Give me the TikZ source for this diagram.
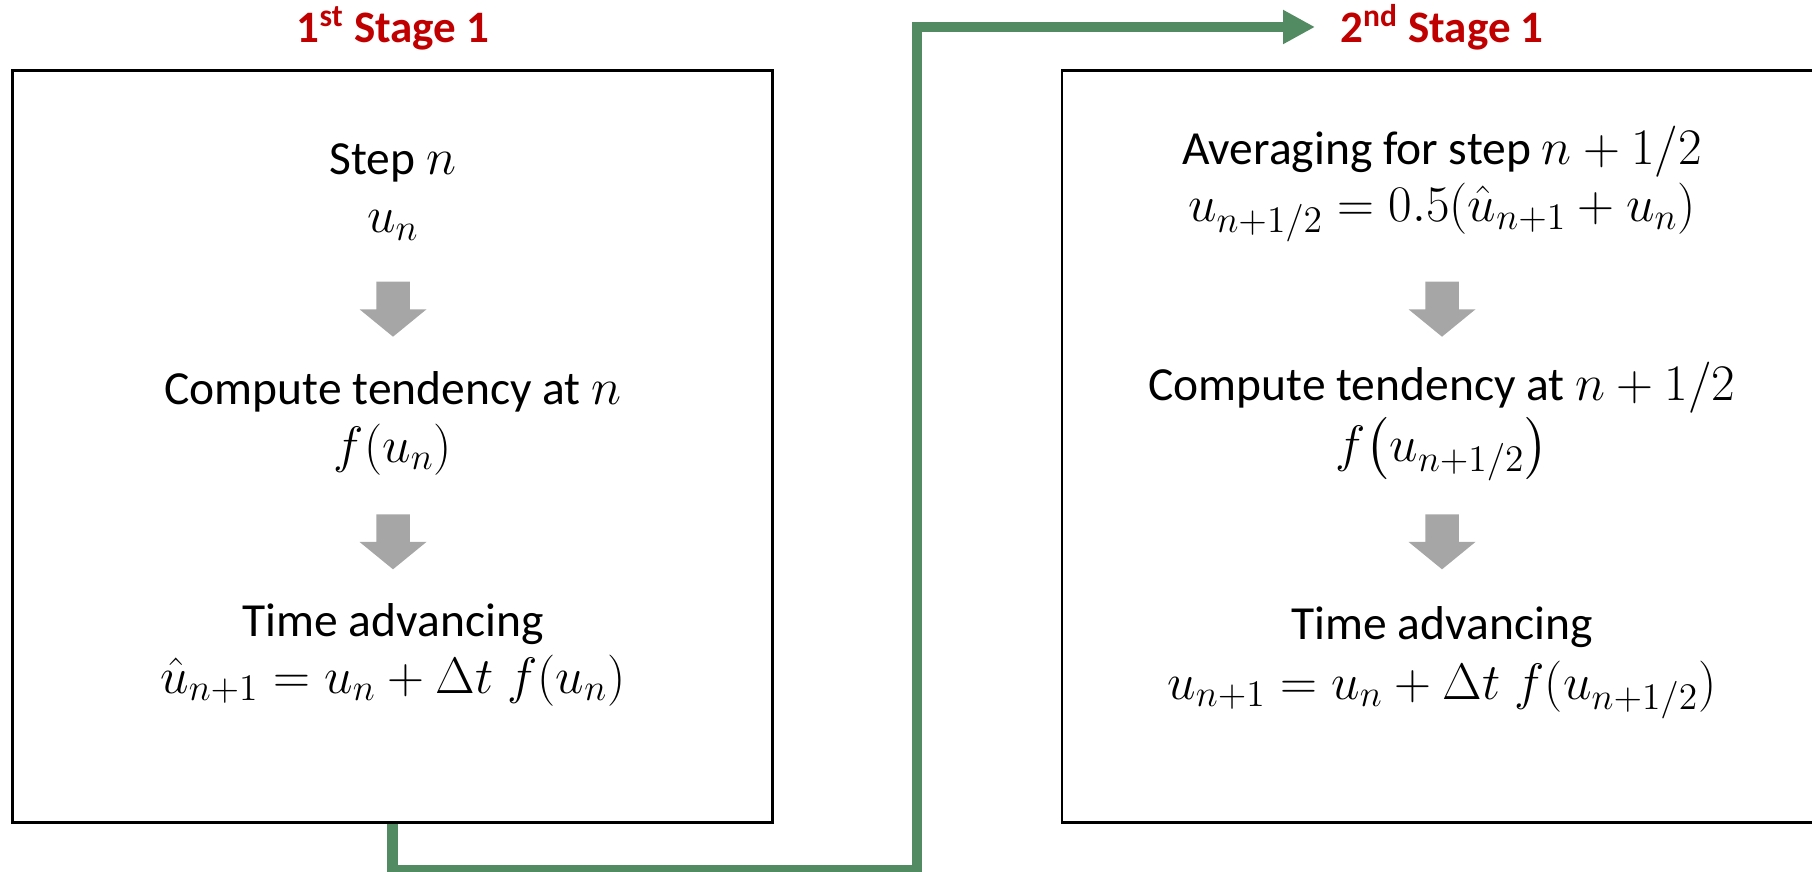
\RequirePackage{fix-cm}
\documentclass[tikz,border=0pt]{standalone}
\usepackage{fontspec}
\setmainfont{Carlito}
\usepackage{amsmath}
\DeclareMathSizes{19}{20.5}{15}{11}
\usetikzlibrary{arrows.meta}
\definecolor{stagered}{RGB}{192,0,0}
\definecolor{flowgreen}{RGB}{82,138,98}
\definecolor{arrowgray}{RGB}{166,166,166}

\begin{document}
\begin{tikzpicture}[
    x=0.4pt, y=-0.4pt,
    every node/.style={font=\fontsize{19}{22.8}\selectfont, inner sep=0pt},
    stagebox/.style={draw, line width=1pt, minimum width=303.9pt, minimum height=300.8pt},
    title/.style={anchor=base, text=stagered, font=\fontsize{18}{21.6}\selectfont\bfseries},
    txt/.style={anchor=base},
    flow/.style={draw=flowgreen, line width=4.2pt, -{Triangle[length=12.8pt, width=12.8pt]}},
    downarr/.pic={
        \fill[arrowgray] (-16.75,0) -- (16.75,0) -- (16.75,27.6) -- (33.5,27.6)
            -- (0,55) -- (-33.5,27.6) -- (-16.75,27.6) -- cycle;
    },
]
    % Page: 1812 x 872 px, y downwards
    \clip (0,0) rectangle (1812,872);

    % Stage boxes (second one runs off the right edge)
    \node[stagebox] (box1) at (392.6, 446.7) {};
    \node[stagebox] (box2) at (1442,  446.7) {};

    \node[title] (title1) at (393,  42.5) {1\textsuperscript{st} Stage 1};
    \node[title] (title2) at (1442, 42.5) {2\textsuperscript{nd} Stage 1};

    % First stage
    \node[txt] (step1) at (393, 175) {Step $n$};
    \node[txt] (un)    at (393, 233) {$u_n$};
    \pic at (393, 281.7) {downarr};
    \node[txt] (comp1) at (393, 405) {Compute tendency at $n$};
    \node[txt] (fun)   at (393, 462) {$f(u_n)$};
    \pic at (393, 514.3) {downarr};
    \node[txt] (time1) at (393, 636) {Time advancing};
    \node[txt] (uhat)  at (393, 693) {$\hat{u}_{n+1} = u_n + \Delta t\; f(u_n)$};

    % Second stage
    \node[txt] (avg)   at (1442, 165) {Averaging for step $n+1/2$};
    \node[txt] (uhalf) at (1442, 222) {$u_{n+1/2} = 0.5(\hat{u}_{n+1} + u_n)$};
    \pic at (1442, 281.7) {downarr};
    \node[txt] (comp2) at (1442, 400) {Compute tendency at $n+1/2$};
    \node[txt] (fhalf) at (1442, 461) {$f\bigl(u_{n+1/2}\bigr)$};
    \pic at (1442, 514.3) {downarr};
    \node[txt] (time2) at (1442, 639) {Time advancing};
    \node[txt] (unew)  at (1442, 699) {$u_{n+1} = u_n + \Delta t\; f(u_{n+1/2})$};

    % Hand-over from stage 1 to stage 2
    \coordinate (low) at (917, 870);
    \coordinate (tip) at (1315, 27);
    \draw[flow] (box1.south) |- (low) |- (tip);

\end{tikzpicture}
\end{document}
